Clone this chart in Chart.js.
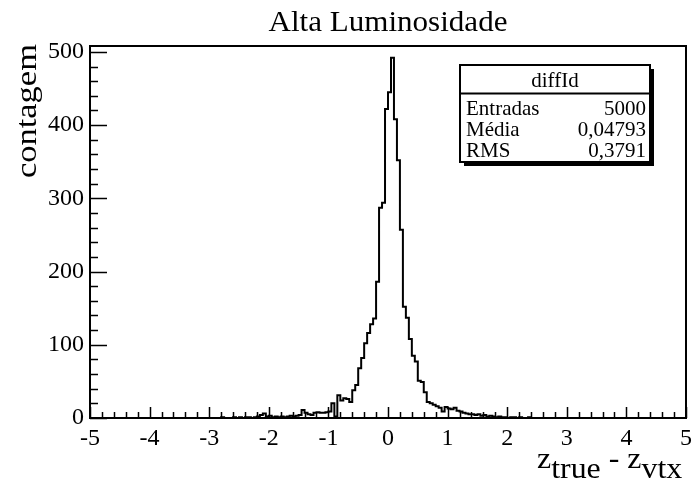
<!DOCTYPE html>
<html>
<head>
<meta charset="utf-8">
<script src="https://cdn.jsdelivr.net/npm/chart.js@4/dist/chart.umd.min.js"></script>
<style>
  html, body { margin: 0; padding: 0; background: #fff; }
  #wrap { width: 698px; height: 486px; }
</style>
</head>
<body>
<div id="wrap"><canvas id="c" width="698" height="486"></canvas></div>
<script>
// Histogram diffId: z_true - z_vtx, 200 bins of 0.05 from -5 to 5
const histLow = -5;
const histHigh = 5;
const binWidth = 0.05;

// Bin contents, 20 bins per row (each row spans 1.0 in z)
const counts = [
  0,0,0,0,0,0,0,0,0,0,0,0,0,0,0,0,0,0,0,0,              // -5 .. -4
  0,0,0,0,0,0,0,0,0,0,0,0,0,0,0,0,0,0,0,0,              // -4 .. -3
  0,0,0,0,1,0,0,0,1,0,1,0,1,1,0,1,2,4,6,2,              // -3 .. -2
  3,1,2,1,2,1,2,3,2,3,4,11,7,5,4,7,8,7,7,8,             // -2 .. -1
  9,20,2,31,24,27,26,22,38,45,68,82,102,116,128,136,186,287,294,422,   // -1 .. 0
  445,492,408,352,257,152,137,108,85,77,51,49,35,22,20,18,16,14,9,15, // 0 .. 1
  13,12,14,10,9,7,6,5,5,4,5,3,4,2,3,2,1,2,1,1,          // 1 .. 2
  0,1,1,0,1,0,0,1,0,0,0,0,0,0,0,0,0,0,0,0,              // 2 .. 3
  0,0,0,0,0,0,0,0,0,0,0,0,0,0,0,0,0,0,0,0,              // 3 .. 4
  0,0,0,0,0,0,0,0,0,0,0,0,0,0,0,0,0,0,0,0               // 4 .. 5
];

const xTickValues = [-5,-4,-3,-2,-1,0,1,2,3,4,5];
const yTickValues = [0,100,200,300,400,500];
const yMax = 508;

const titleText = 'Alta Luminosidade';
const yTitle = 'contagem';
const statsName = 'diffId';
const statsLabels = ['Entradas', 'Média', 'RMS'];
const statsValues = ['5000', '0,04793', '0,3791'];

const SERIF = '"Liberation Serif", "DejaVu Serif", serif';

// step outline: one point at each bin's lower edge, plus the upper edge of the last bin;
// with stepped 'before' each count is held from its lower edge to the next edge
const points = counts.map((c, i) => ({ x: histLow + i * binWidth, y: c }));
points.push({ x: histHigh, y: counts[counts.length - 1] });

// text drawn with a slight horizontal widening
function wideText(ctx, text, x, y, stretch, align) {
  ctx.save();
  ctx.translate(x, y);
  ctx.scale(stretch, 1);
  ctx.textAlign = align;
  ctx.fillText(text, 0, 0);
  ctx.restore();
}

const rootStyle = {
  id: 'rootStyle',
  afterDraw(chart) {
    const ctx = chart.ctx;
    const a = chart.chartArea;
    const xs = chart.scales.x, ys = chart.scales.y;
    ctx.save();
    ctx.strokeStyle = '#000';
    ctx.fillStyle = '#000';

    // frame
    ctx.lineWidth = 2;
    ctx.strokeRect(a.left, a.top, a.right - a.left, a.bottom - a.top);

    // x ticks, pointing into the frame
    ctx.lineWidth = 1.5;
    ctx.beginPath();
    for (let k = 0; k <= 50; k++) {
      const v = histLow + k * 0.2;
      const px = Math.round(xs.getPixelForValue(v)) + 0.5;
      const len = (k % 5 === 0) ? 11 : 6;
      ctx.moveTo(px, a.bottom);
      ctx.lineTo(px, a.bottom - len);
    }
    // y ticks
    for (let k = 0; k <= 25; k++) {
      const v = k * 20;
      const py = Math.round(ys.getPixelForValue(v)) + 0.5;
      const len = (k % 5 === 0) ? 17 : 8;
      ctx.moveTo(a.left, py);
      ctx.lineTo(a.left + len, py);
    }
    ctx.stroke();

    ctx.textBaseline = 'alphabetic';

    // title
    ctx.font = '30px ' + SERIF;
    wideText(ctx, titleText, (a.left + a.right) / 2, 31, 1.035, 'center');

    // y axis title, rotated, aligned with the top of the frame
    ctx.save();
    ctx.translate(36, a.top - 2);
    ctx.rotate(-Math.PI / 2);
    ctx.font = '30px ' + SERIF;
    wideText(ctx, yTitle, 0, 0, 1.15, 'right');
    ctx.restore();

    // x axis title z_true - z_vtx
    let x = 537;
    const base = 468, sub = 478;
    const parts = [['z', base], ['true', sub], [' - ', base], ['z', base], ['vtx', sub]];
    ctx.font = '29px ' + SERIF;
    const st = 1.1;
    for (const [t, y] of parts) {
      wideText(ctx, t, x, y, st, 'left');
      x += ctx.measureText(t).width * st;
    }

    // statistics box
    const bx = 460, by = 65, bw = 190, bh = 97, sh = 4;
    ctx.fillRect(bx + sh, by + sh, bw, bh);
    ctx.fillStyle = '#fff';
    ctx.fillRect(bx, by, bw, bh);
    ctx.fillStyle = '#000';
    ctx.lineWidth = 2;
    ctx.strokeRect(bx, by, bw, bh);
    ctx.beginPath();
    ctx.moveTo(bx, by + 28.5);
    ctx.lineTo(bx + bw, by + 28.5);
    ctx.stroke();
    ctx.font = '21px ' + SERIF;
    ctx.textAlign = 'center';
    ctx.fillText(statsName, bx + bw / 2, by + 22);
    const rowBase = [by + 50, by + 71, by + 92];
    for (let i = 0; i < statsLabels.length; i++) {
      ctx.textAlign = 'left';
      ctx.fillText(statsLabels[i], bx + 6, rowBase[i]);
      ctx.textAlign = 'right';
      ctx.fillText(statsValues[i], bx + bw - 4, rowBase[i]);
    }
    ctx.restore();
  }
};

new Chart(document.getElementById('c'), {
  type: 'line',
  data: {
    datasets: [{
      data: points,
      stepped: 'before',
      borderColor: '#000',
      borderWidth: 2,
      pointRadius: 0,
      fill: false,
      tension: 0
    }]
  },
  options: {
    responsive: false,
    animation: false,
    events: [],
    layout: { padding: { top: 46, right: 8, left: 0, bottom: 0 } },
    plugins: { legend: { display: false }, tooltip: { enabled: false }, title: { display: false } },
    scales: {
      x: {
        type: 'linear',
        min: histLow,
        max: histHigh,
        afterBuildTicks: s => { s.ticks = xTickValues.map(v => ({ value: v })); },
        afterFit: s => { s.height = 68; },
        ticks: {
          autoSkip: false,
          maxRotation: 0,
          padding: 6,
          color: '#000',
          font: { family: SERIF, size: 24 },
          callback: v => String(v)
        },
        grid: { display: false, drawTicks: false },
        border: { display: false }
      },
      y: {
        type: 'linear',
        min: 0,
        max: yMax,
        afterBuildTicks: s => { s.ticks = yTickValues.map(v => ({ value: v })); },
        afterFit: s => { s.width = 90; },
        ticks: {
          autoSkip: false,
          padding: 6,
          color: '#000',
          font: { family: SERIF, size: 24 },
          callback: v => String(v)
        },
        grid: { display: false, drawTicks: false },
        border: { display: false }
      }
    }
  },
  plugins: [rootStyle]
});
</script>
</body>
</html>
